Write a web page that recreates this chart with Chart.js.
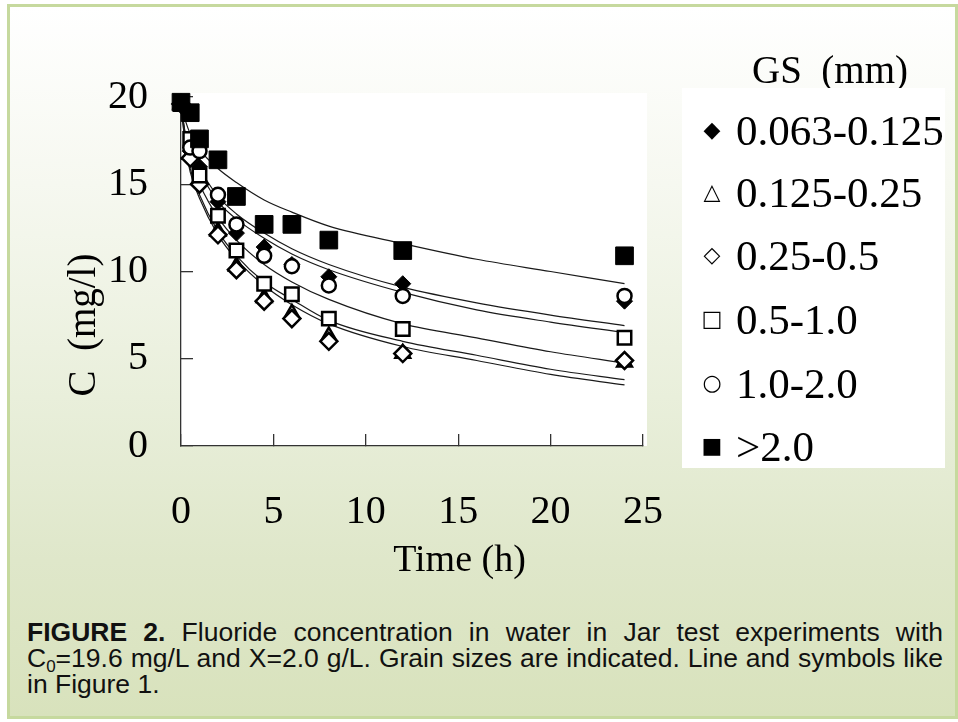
<!DOCTYPE html>
<html>
<head>
<meta charset="utf-8">
<script src="https://cdn.jsdelivr.net/npm/chart.js@4.4.1/dist/chart.umd.min.js"></script>
<style>
body { margin: 0; width: 958px; height: 722px; overflow: hidden; position: relative; background: #fff; }
#frame { position: absolute; left: 7px; top: 4px; width: 945px; height: 709px; border: 3px solid #c6d99e;
  background: linear-gradient(to bottom, #ffffff 0%, #f6f8f0 25%, #e9efdb 55%, #dfe7ca 78%, #d8e2bc 100%); }
#box { position: absolute; left: 0; top: 0; width: 958px; height: 600px; }
#gsTitle { position: absolute; left: 752px; top: 46px; font: 39px "Liberation Serif", serif; line-height: 48px; color: #000; white-space: pre; }
#legend { position: absolute; left: 682px; top: 88px; width: 263px; height: 380px; background: #fff; }
.row { position: absolute; left: 0; height: 48px; width: 263px; }
.mk { position: absolute; left: 18px; width: 24px; top: 11px; line-height: 48px; text-align: center; font: bold 22px "DejaVu Sans", sans-serif; color: #000; }
.lb { position: absolute; left: 54px; top: 0; line-height: 48px; font: 43px "Liberation Serif", serif; color: #000; white-space: nowrap; }
#caption { position: absolute; left: 27px; top: 619px; width: 916px; font-family: "Liberation Sans", Arial, sans-serif; font-size: 26.5px; color: #111; }
.ln { height: 26px; line-height: 26px; text-align: justify; text-align-last: justify; }
.ln.last { text-align: left; text-align-last: left; }
.sub { font-size: 17px; position: relative; top: 5px; }
</style>
</head>
<body>
<div id="frame"></div>
<div id="box"><canvas id="myChart"></canvas></div>
<div id="gsTitle">GS  (mm)</div>
<div id="legend"></div>
<div id="caption">
  <div class="ln"><b>FIGURE 2.</b> Fluoride concentration in water in Jar test experiments with</div>
  <div class="ln">C<span class="sub">0</span>=19.6 mg/L and X=2.0 g/L. Grain sizes are indicated. Line and symbols like</div>
  <div class="ln last">in Figure 1.</div>
</div>
<script>
// measured points (time in h, C in mg/l)
var times = [0, 0.5, 1, 2, 3, 4.5, 6, 8, 12, 24];
var grainSizes = ["0.063-0.125", "0.125-0.25", "0.25-0.5", "0.5-1.0", "1.0-2.0", ">2.0"];
var cGs1 = [19.6, 16.9, 16.0, 14.0, 12.2, 11.4, 10.4, 9.7, 9.3, 8.3];
var cGs2 = [19.6, 16.7, 15.3, 12.3, 10.3, 8.5, 7.6, 6.3, 5.3, 4.8];
var cGs3 = [19.6, 16.5, 15.0, 12.1, 10.1, 8.3, 7.3, 6.0, 5.3, 4.9];
var cGs4 = [19.6, 17.6, 15.5, 13.2, 11.2, 9.3, 8.7, 7.3, 6.7, 6.2];
var cGs5 = [19.6, 17.1, 16.9, 14.4, 12.7, 10.9, 10.3, 9.2, 8.6, 8.6];
var cGs6 = [19.7, 19.1, 17.6, 16.4, 14.3, 12.7, 12.7, 11.8, 11.2, 10.9];

// model curves
var fitTimes = [0, 0.25, 0.5, 1, 2, 3, 4.5, 6, 8, 12, 16, 20, 24];
var fitGs1 = [19.6, 17.7, 16.7, 15.7, 14.0, 13.0, 11.9, 11.0, 10.1, 8.8, 7.8, 7.1, 6.5];
var fitGs2 = [19.6, 17.2, 15.9, 14.4, 12.3, 10.9, 9.4, 8.4, 7.2, 6.0, 5.2, 4.4, 3.8];
var fitGs3 = [19.6, 17.1, 15.7, 14.2, 12.1, 10.7, 9.2, 8.1, 7.0, 5.7, 4.9, 4.1, 3.5];
var fitGs4 = [19.6, 17.5, 16.3, 15.0, 13.1, 11.8, 10.4, 9.4, 8.4, 7.0, 6.2, 5.4, 4.75];
var fitGs5 = [19.6, 17.8, 16.9, 15.9, 14.3, 13.3, 12.2, 11.3, 10.4, 9.1, 8.2, 7.5, 6.9];
var fitGs6 = [19.6, 18.6, 17.9, 17.0, 15.9, 15.1, 14.1, 13.4, 12.6, 11.6, 10.7, 10.0, 9.3];

var xTicks = [0, 5, 10, 15, 20, 25];
var yTicks = [0, 5, 10, 15, 20];

var measured = [cGs1, cGs2, cGs3, cGs4, cGs5, cGs6];
var fitted = [fitGs1, fitGs2, fitGs3, fitGs4, fitGs5, fitGs6];

var markers = [
    { style: "rectRot", fill: "#000", r: 8, bw: 1, glyph: "\u25C6" },
    { style: "triangle", fill: "#fff", r: 8.5, bw: 2.5, glyph: "\u25B3" },
    { style: "rectRot", fill: "#fff", r: 8.5, bw: 2.5, glyph: "\u25C7" },
    { style: "rect", fill: "#fff", r: 9.5, bw: 2.5, glyph: "\u25A1" },
    { style: "circle", fill: "#fff", r: 7, bw: 2.5, glyph: "\u25CB" },
    { style: "rect", fill: "#000", r: 12.5, bw: 1, glyph: "\u25A0" }
];

var pairs = function (xs, ys) {
    return xs.map(function (x, i) { return { x: x, y: ys[i] }; });
};

var plotBg = {
    id: "plotBg",
    beforeDraw: function (chart) {
        var a = chart.chartArea;
        var ctx = chart.ctx;
        ctx.save();
        ctx.fillStyle = "#fff";
        ctx.fillRect(a.left, a.top - 4, a.right - a.left + 4, a.bottom - a.top + 4);
        ctx.restore();
    }
};

var draw = function () {
    var datasets = [];
    fitted.forEach(function (ys, i) {
        datasets.push({
            label: "fit " + grainSizes[i],
            data: pairs(fitTimes, ys),
            borderColor: "#1a1a1a",
            borderWidth: 1.2,
            pointRadius: 0,
            cubicInterpolationMode: "monotone",
            fill: false,
            order: 20
        });
    });
    measured.forEach(function (ys, i) {
        var m = markers[i];
        datasets.push({
            label: grainSizes[i],
            data: pairs(times, ys),
            showLine: false,
            pointStyle: m.style,
            pointRadius: m.r,
            pointBackgroundColor: m.fill,
            pointBorderColor: "#000",
            pointBorderWidth: m.bw,
            clip: false,
            order: 10 - i
        });
    });

    var tickFont = { family: "Liberation Serif", size: 40 };
    var ctx = document.getElementById("myChart").getContext("2d");
    var myChart = new Chart(ctx, {
        type: "line",
        data: { datasets: datasets },
        plugins: [plotBg],
        options: {
            responsive: true,
            maintainAspectRatio: false,
            animation: false,
            events: [],
            layout: { padding: { left: 0, top: 97, right: 315, bottom: 0 } },
            plugins: { legend: { display: false }, tooltip: { enabled: false } },
            scales: {
                x: {
                    type: "linear",
                    min: 0,
                    max: 25,
                    afterBuildTicks: function (s) { s.ticks = xTicks.map(function (v) { return { value: v }; }); },
                    afterFit: function (s) { s.height = 154; },
                    border: { color: "#333", width: 1.3 },
                    grid: { drawOnChartArea: false, tickLength: -12, color: "#333", lineWidth: 1.3 },
                    ticks: { color: "#000", font: tickFont, padding: 54, maxRotation: 0 },
                    title: {
                        display: true,
                        text: "          Time (h)",
                        color: "#000",
                        font: { family: "Liberation Serif", size: 38 },
                        padding: { top: 0, bottom: 16 }
                    }
                },
                y: {
                    min: 0,
                    max: 20,
                    afterBuildTicks: function (s) { s.ticks = yTicks.map(function (v) { return { value: v }; }); },
                    afterFit: function (s) { s.width = 181; },
                    border: { color: "#333", width: 1.3 },
                    grid: { drawOnChartArea: false, tickLength: -12, color: "#333", lineWidth: 1.3 },
                    ticks: { color: "#000", font: tickFont, padding: 45 },
                    title: {
                        display: true,
                        text: "C  (mg/l)           ",
                        color: "#000",
                        font: { family: "Liberation Serif", size: 39 },
                        padding: { top: 61, bottom: 0 }
                    }
                }
            }
        }
    });

    // legend in the white box, one row per grain size
    var lg = document.getElementById("legend");
    var rowCenters = [42, 104, 167, 231, 295, 358];
    grainSizes.forEach(function (g, i) {
        var row = document.createElement("div");
        row.className = "row";
        row.style.top = (rowCenters[i] - 24) + "px";
        var mk = document.createElement("span");
        mk.className = "mk";
        mk.textContent = markers[i].glyph;
        var lb = document.createElement("span");
        lb.className = "lb";
        lb.textContent = g;
        row.appendChild(mk);
        row.appendChild(lb);
        lg.appendChild(row);
    });
};

window.onload = function () {
    draw();
};
</script>
</body>
</html>
